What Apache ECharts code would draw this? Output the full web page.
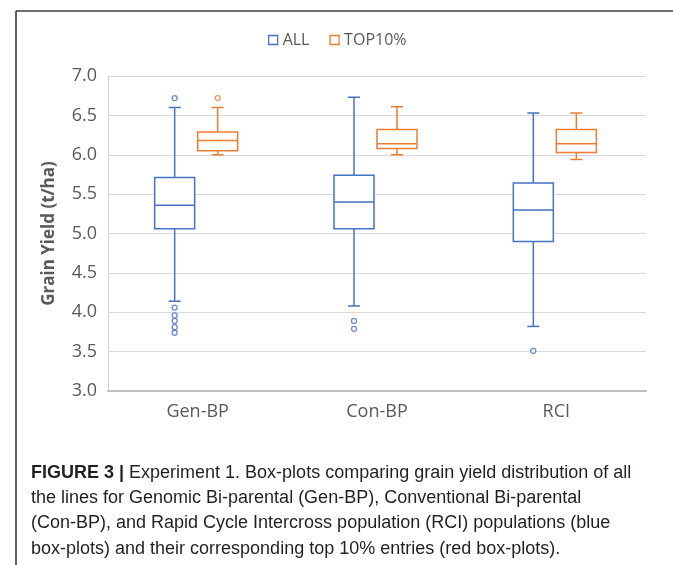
<!DOCTYPE html>
<html>
<head>
<meta charset="UTF-8">
<script src="https://cdn.jsdelivr.net/npm/echarts@6/dist/echarts.min.js"></script>
<style>
  html, body { margin: 0; padding: 0; background: #fff; }
  #main { width: 673px; height: 565px; }
</style>
</head>
<body>
<div id="main"></div>
<script>
// categories and box statistics: [min, Q1, median, Q3, max]
var categories = ['Gen-BP', 'Con-BP', 'RCI'];
var allBoxes = [
  [4.14, 5.06, 5.36, 5.71, 6.60],
  [4.08, 5.06, 5.40, 5.74, 6.73],
  [3.82, 4.90, 5.30, 5.64, 6.53]
];
var topBoxes = [
  [6.00, 6.05, 6.18, 6.29, 6.60],
  [6.00, 6.08, 6.14, 6.32, 6.61],
  [5.94, 6.03, 6.14, 6.32, 6.53]
];
// outliers: [category, value]
var allOutliers = [
  ['Gen-BP', 6.72], ['Gen-BP', 4.06], ['Gen-BP', 3.96], ['Gen-BP', 3.89], ['Gen-BP', 3.81], ['Gen-BP', 3.74],
  ['Con-BP', 3.89], ['Con-BP', 3.79],
  ['RCI', 3.51]
];
var topOutliers = [
  ['Gen-BP', 6.72]
];

var BLUE = '#4472C4';
var ORANGE = '#ED7D31';
var FONT = '"Open Sans", sans-serif';
var CAPTION_FONT = '"Liberation Sans", Arial, sans-serif';

// box drawn with a small cap on each whisker, shifted sideways inside the band
function boxRenderer(offset, color) {
  return function (params, api) {
    var i = api.value(0);
    var lo = api.coord([i, api.value(1)]);
    var q1 = api.coord([i, api.value(2)]);
    var md = api.coord([i, api.value(3)]);
    var q3 = api.coord([i, api.value(4)]);
    var hi = api.coord([i, api.value(5)]);
    var x = lo[0] + offset;
    var half = 20, cap = 6;
    var st = { stroke: color, lineWidth: 1.5, fill: null };
    return {
      type: 'group',
      children: [
        { type: 'line', shape: { x1: x, y1: hi[1], x2: x, y2: q3[1] }, style: st },
        { type: 'line', shape: { x1: x, y1: q1[1], x2: x, y2: lo[1] }, style: st },
        { type: 'line', shape: { x1: x - cap, y1: hi[1], x2: x + cap, y2: hi[1] }, style: st },
        { type: 'line', shape: { x1: x - cap, y1: lo[1], x2: x + cap, y2: lo[1] }, style: st },
        { type: 'rect', shape: { x: x - half, y: q3[1], width: half * 2, height: q1[1] - q3[1] },
          style: { stroke: color, lineWidth: 1.5, fill: '#fff' } },
        { type: 'line', shape: { x1: x - half, y1: md[1], x2: x + half, y2: md[1] }, style: st }
      ]
    };
  };
}

function withIndex(rows) {
  return rows.map(function (r, i) { return [i].concat(r); });
}

var ALL_OFFSET = -23, TOP_OFFSET = 20;

var myChart = echarts.init(document.getElementById('main'));
var option = {
  animation: false,
  backgroundColor: '#fff',
  title: {
    left: 31,
    top: 460,
    padding: 0,
    text: '{b|FIGURE 3 |} Experiment 1. Box-plots comparing grain yield distribution of all\n' +
          'the lines for Genomic Bi-parental (Gen-BP), Conventional Bi-parental\n' +
          '(Con-BP), and Rapid Cycle Intercross population (RCI) populations (blue\n' +
          'box-plots) and their corresponding top 10% entries (red box-plots).',
    textStyle: {
      fontFamily: CAPTION_FONT, fontSize: 18, fontWeight: 'normal', color: '#231f20', lineHeight: 25.4,
      rich: {
        b: { fontFamily: CAPTION_FONT, fontSize: 18, fontWeight: 'bold', color: '#231f20', lineHeight: 25.4 }
      }
    }
  },
  legend: {
    top: 27,
    left: 263,
    itemWidth: 9,
    itemHeight: 9,
    itemGap: 20,
    textStyle: { fontFamily: FONT, fontSize: 16, color: '#595959' },
    data: [
      { name: 'ALL', icon: 'rect', itemStyle: { color: '#fff', borderColor: BLUE, borderWidth: 1.3 } },
      { name: 'TOP10%', icon: 'rect', itemStyle: { color: '#fff', borderColor: ORANGE, borderWidth: 1.3 } }
    ]
  },
  grid: { left: 108, right: 27, top: 76, bottom: 174 },
  xAxis: {
    type: 'category',
    data: categories,
    axisLine: { lineStyle: { color: '#BFBFBF', width: 2 } },
    axisTick: { show: false },
    axisLabel: { fontFamily: FONT, fontSize: 18, color: '#595959', margin: 12 }
  },
  yAxis: {
    type: 'value',
    min: 3,
    max: 7,
    interval: 0.5,
    name: 'Grain Yield (t/ha)',
    nameLocation: 'middle',
    nameGap: 50,
    nameTextStyle: { fontFamily: FONT, fontSize: 17, fontWeight: 'bold', color: '#595959' },
    axisLine: { show: true, lineStyle: { color: '#D0D0D0', width: 1 } },
    axisTick: { show: false },
    axisLabel: {
      fontFamily: FONT, fontSize: 18, color: '#595959', margin: 11,
      formatter: function (v) { return v.toFixed(1); }
    },
    splitLine: { lineStyle: { color: '#D9D9D9', width: 1 } }
  },
  series: [
    {
      name: 'ALL', type: 'custom', color: BLUE,
      renderItem: boxRenderer(ALL_OFFSET, BLUE),
      encode: { x: 0, y: [1, 2, 3, 4, 5] },
      data: withIndex(allBoxes), z: 3
    },
    {
      name: 'TOP10%', type: 'custom', color: ORANGE,
      renderItem: boxRenderer(TOP_OFFSET, ORANGE),
      encode: { x: 0, y: [1, 2, 3, 4, 5] },
      data: withIndex(topBoxes), z: 3
    },
    {
      name: 'ALL', type: 'scatter', symbol: 'circle', symbolSize: 5,
      symbolOffset: [ALL_OFFSET, 0],
      itemStyle: { color: '#fff', borderColor: BLUE, borderWidth: 1.3 },
      data: allOutliers, z: 4
    },
    {
      name: 'TOP10%', type: 'scatter', symbol: 'circle', symbolSize: 5,
      symbolOffset: [TOP_OFFSET, 0],
      itemStyle: { color: '#fff', borderColor: ORANGE, borderWidth: 1.3 },
      data: topOutliers, z: 4
    }
  ],
  graphic: [
    { type: 'line', shape: { x1: 16, y1: 11, x2: 673, y2: 11 }, style: { stroke: '#6f6f6f', lineWidth: 2 } },
    { type: 'line', shape: { x1: 16, y1: 11, x2: 16, y2: 565 }, style: { stroke: '#2e2e2e', lineWidth: 1.5 } }
  ]
};
myChart.setOption(option);
</script>
</body>
</html>
